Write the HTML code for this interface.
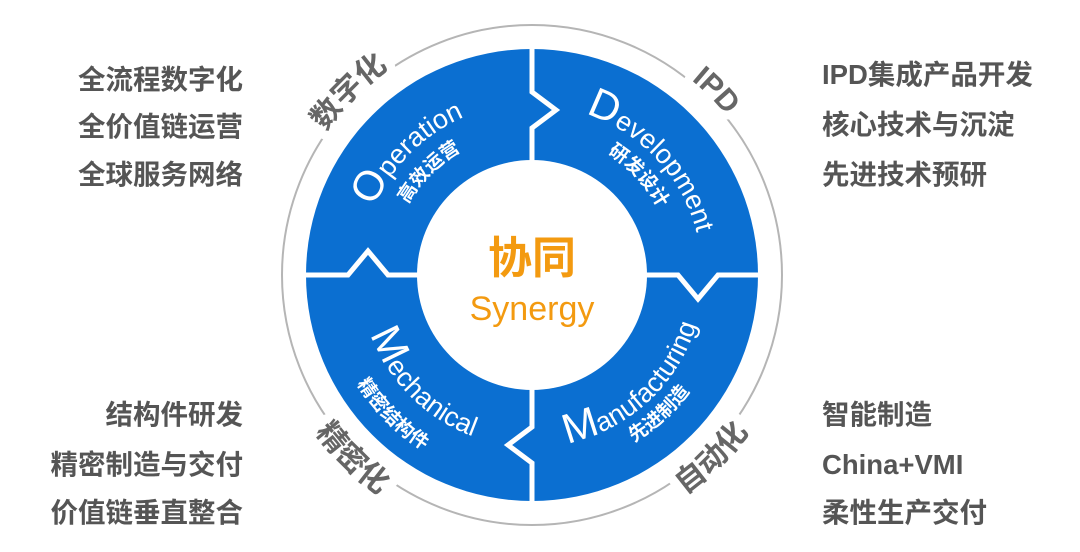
<!DOCTYPE html>
<html><head><meta charset="utf-8"><style>
html,body{margin:0;padding:0;background:#fff}
svg{display:block}
.side{font-family:"Liberation Sans","Noto Sans CJK SC",sans-serif;font-size:27.5px;font-weight:bold;fill:#555}
.en{font-family:"Liberation Sans",sans-serif;font-size:27px;fill:#fff}
.big{font-size:42px}
.cn{font-family:"Liberation Sans","Noto Sans CJK SC",sans-serif;font-size:19px;font-weight:bold;fill:#fff}
.lab{font-family:"Liberation Sans","Noto Sans CJK SC",sans-serif;font-size:30px;font-weight:bold;fill:#666}
.halo{font-family:"Liberation Sans","Noto Sans CJK SC",sans-serif;font-size:30px;font-weight:bold;fill:#fff;stroke:#fff;stroke-width:18px;stroke-linejoin:round}
</style></head><body>
<svg width="1080" height="552" viewBox="0 0 1080 552" xmlns="http://www.w3.org/2000/svg">
<defs>
<path id="pOe" d="M365.9,319.5 A172,172 0 0 1 576.5,108.9"/>
<path id="pOc" d="M393.9,312.0 A143,143 0 0 1 569.0,136.9"/>
<path id="pDe" d="M493.8,109.4 A170,170 0 0 1 694.6,324.7"/>
<path id="pDc" d="M499.8,135.7 A143,143 0 0 1 668.8,316.8"/>
<path id="pMe" d="M365.9,230.5 A172,172 0 0 0 576.5,441.1"/>
<path id="pMc" d="M333.0,221.7 A206,206 0 0 0 585.3,474.0"/>
<path id="pFe" d="M480.3,439.0 A172,172 0 0 0 699.9,237.8"/>
<path id="pFc" d="M473.1,461.9 A196,196 0 0 0 723.4,232.6"/>
<path id="gTL" d="M288.9,340.1 A252,252 0 0 1 597.2,31.6"/>
<path id="gTR" d="M466.8,31.6 A252,252 0 0 1 775.1,340.1"/>
<path id="gBL" d="M272.4,210.4 A268,268 0 0 0 601.4,533.9"/>
<path id="gBR" d="M462.6,533.9 A268,268 0 0 0 791.6,210.4"/>
</defs>
<circle cx="532" cy="275" r="250" fill="none" stroke="#b5b5b5" stroke-width="2"/>
<circle cx="532" cy="275" r="226" fill="#0b6fd1"/>
<circle cx="532" cy="275" r="115" fill="#fff"/>
<g fill="none" stroke="#fff" stroke-width="5" stroke-linejoin="miter">
<polyline points="532,45 532,92 556,110 532,128 532,165"/>
<polyline points="300,275 348,275 368,251 388,275 422,275"/>
<polyline points="642,275 678,275 698,299 718,275 764,275"/>
<polyline points="532,385 532,427 508,445 532,463 532,505"/>
</g>
<text class="en"><textPath href="#pOe" startOffset="50%" text-anchor="middle"><tspan class="big">O</tspan>peration</textPath></text>
<text class="cn"><textPath href="#pOc" startOffset="50%" text-anchor="middle">高效运营</textPath></text>
<text class="en"><textPath href="#pDe" startOffset="50%" text-anchor="middle"><tspan class="big">D</tspan>evelopment</textPath></text>
<text class="cn"><textPath href="#pDc" startOffset="50%" text-anchor="middle">研发设计</textPath></text>
<text class="en"><textPath href="#pMe" startOffset="50%" text-anchor="middle"><tspan class="big">M</tspan>echanical</textPath></text>
<text class="cn"><textPath href="#pMc" startOffset="50%" text-anchor="middle">精密结构件</textPath></text>
<text class="en"><textPath href="#pFe" startOffset="50%" text-anchor="middle"><tspan class="big">M</tspan>anufacturing</textPath></text>
<text class="cn"><textPath href="#pFc" startOffset="50%" text-anchor="middle">先进制造</textPath></text>
<text class="halo"><textPath href="#gTL" startOffset="50%" text-anchor="middle">数字化</textPath></text>
<text class="halo"><textPath href="#gTR" startOffset="50%" text-anchor="middle">IPD</textPath></text>
<text class="halo"><textPath href="#gBL" startOffset="50%" text-anchor="middle">精密化</textPath></text>
<text class="halo"><textPath href="#gBR" startOffset="50%" text-anchor="middle">自动化</textPath></text>
<text class="lab"><textPath href="#gTL" startOffset="50%" text-anchor="middle">数字化</textPath></text>
<text class="lab"><textPath href="#gTR" startOffset="50%" text-anchor="middle">IPD</textPath></text>
<text class="lab"><textPath href="#gBL" startOffset="50%" text-anchor="middle">精密化</textPath></text>
<text class="lab"><textPath href="#gBR" startOffset="50%" text-anchor="middle">自动化</textPath></text>
<text x="532" y="273" text-anchor="middle" font-family="Liberation Sans,Noto Sans CJK SC,sans-serif" font-size="44" font-weight="bold" fill="#f39a10">协同</text>
<text x="532" y="320" text-anchor="middle" font-family="Liberation Sans,sans-serif" font-size="34" fill="#f39a10">Synergy</text>
<g class="side" text-anchor="end">
<text x="243" y="89">全流程数字化</text>
<text x="243" y="136">全价值链运营</text>
<text x="243" y="184">全球服务网络</text>
<text x="243" y="424">结构件研发</text>
<text x="243" y="474">精密制造与交付</text>
<text x="243" y="522">价值链垂直整合</text>
</g>
<g class="side">
<text x="822" y="84">IPD集成产品开发</text>
<text x="822" y="134">核心技术与沉淀</text>
<text x="822" y="184">先进技术预研</text>
<text x="822" y="424">智能制造</text>
<text x="822" y="474">China+VMI</text>
<text x="822" y="522">柔性生产交付</text>
</g>
</svg>
</body></html>
